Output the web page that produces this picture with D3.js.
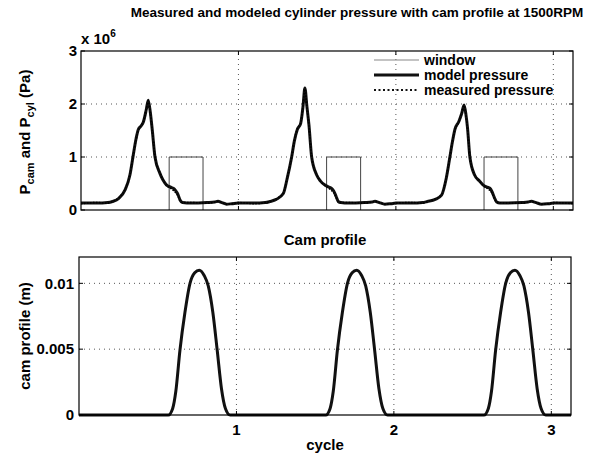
<html>
<head>
<script src="https://d3js.org/d3.v7.min.js"></script>
<style>
  body { margin: 0; background: white; }
  svg { font-family: "Liberation Sans", Arial, sans-serif; font-weight: bold; }
  .grid { stroke: #555; stroke-width: 1; stroke-dasharray: 1,4; fill: none; }
  .frame { stroke: black; stroke-width: 1.2; fill: none; }
  .tick { font-size: 15px; fill: black; }
</style>
</head>
<body>
<svg id="chart" width="590" height="457"></svg>
<script>
// ---- data ----
const cycleTicks = [1, 2, 3];
const pressureTicks = [0, 1, 2, 3];          // x 10^6 Pa
const camTicks = [0, 0.005, 0.01];
const camTickLabels = ["0", "0.005", "0.01"];

// model cylinder pressure [cycle, Pa x 1e6]
const modelPressure = [
  [0, 0.13], [0.1, 0.13], [0.17, 0.14], [0.2, 0.16], [0.24, 0.22], [0.28, 0.38], [0.31, 0.65],
  [0.33, 1.0], [0.35, 1.35], [0.364, 1.52], [0.38, 1.58], [0.396, 1.66], [0.415, 1.9], [0.427, 2.07],
  [0.44, 1.85], [0.453, 1.5], [0.47, 1.0], [0.5, 0.7], [0.52, 0.57], [0.544, 0.47], [0.57, 0.43],
  [0.586, 0.41], [0.6, 0.37], [0.615, 0.3], [0.629, 0.19], [0.645, 0.14], [0.7, 0.13], [0.8, 0.14],
  [0.85, 0.15], [0.87, 0.165], [0.895, 0.14], [0.925, 0.11], [0.96, 0.12], [1.0, 0.13], [1.1, 0.13],
  [1.17, 0.14], [1.2, 0.16], [1.24, 0.2], [1.285, 0.31], [1.31, 0.6], [1.338, 1.0], [1.355, 1.3],
  [1.374, 1.52], [1.395, 1.63], [1.41, 1.95], [1.422, 2.3], [1.435, 1.95], [1.448, 1.6], [1.465, 1.0],
  [1.497, 0.66], [1.52, 0.55], [1.55, 0.47], [1.575, 0.43], [1.59, 0.41], [1.605, 0.36], [1.62, 0.26],
  [1.634, 0.16], [1.65, 0.14], [1.7, 0.13], [1.8, 0.14], [1.85, 0.15], [1.867, 0.165], [1.895, 0.14],
  [1.93, 0.11], [1.97, 0.12], [2.0, 0.13], [2.1, 0.13], [2.17, 0.14], [2.2, 0.16], [2.25, 0.2],
  [2.29, 0.28], [2.32, 0.6], [2.343, 1.0], [2.36, 1.3], [2.375, 1.52], [2.4, 1.67], [2.418, 1.82],
  [2.433, 1.98], [2.445, 1.8], [2.455, 1.55], [2.47, 1.0], [2.5, 0.66], [2.53, 0.55], [2.555, 0.47],
  [2.58, 0.43], [2.597, 0.41], [2.61, 0.35], [2.625, 0.24], [2.64, 0.15], [2.66, 0.13], [2.7, 0.13],
  [2.8, 0.14], [2.84, 0.15], [2.86, 0.165], [2.89, 0.14], [2.925, 0.11], [2.97, 0.12], [3.0, 0.13],
  [3.125, 0.13]
];

// measured cylinder pressure [cycle, Pa x 1e6]
const measuredPressure = [
  [0, 0.12], [0.1, 0.14], [0.17, 0.13], [0.2, 0.16], [0.24, 0.23], [0.28, 0.39], [0.31, 0.66],
  [0.33, 1.0], [0.35, 1.33], [0.364, 1.5], [0.38, 1.59], [0.396, 1.67], [0.415, 1.91], [0.427, 2.06],
  [0.44, 1.84], [0.453, 1.49], [0.47, 1.01], [0.5, 0.71], [0.52, 0.58], [0.544, 0.46], [0.57, 0.41],
  [0.586, 0.37], [0.6, 0.33], [0.615, 0.27], [0.629, 0.18], [0.645, 0.14], [0.7, 0.14], [0.8, 0.13],
  [0.85, 0.15], [0.87, 0.16], [0.895, 0.14], [0.925, 0.11], [0.96, 0.12], [1.0, 0.14], [1.1, 0.12],
  [1.17, 0.14], [1.2, 0.16], [1.24, 0.21], [1.285, 0.32], [1.31, 0.61], [1.338, 1.0], [1.355, 1.31],
  [1.374, 1.53], [1.395, 1.64], [1.41, 1.96], [1.422, 2.28], [1.435, 1.94], [1.448, 1.59], [1.465, 1.01],
  [1.497, 0.67], [1.52, 0.55], [1.55, 0.46], [1.575, 0.41], [1.59, 0.37], [1.605, 0.33], [1.62, 0.24],
  [1.634, 0.16], [1.65, 0.14], [1.7, 0.14], [1.8, 0.13], [1.85, 0.15], [1.867, 0.16], [1.895, 0.14],
  [1.93, 0.11], [1.97, 0.12], [2.0, 0.13], [2.1, 0.14], [2.17, 0.13], [2.2, 0.16], [2.25, 0.21],
  [2.29, 0.29], [2.32, 0.61], [2.343, 1.0], [2.36, 1.31], [2.375, 1.51], [2.4, 1.66], [2.418, 1.83],
  [2.433, 1.97], [2.445, 1.79], [2.455, 1.54], [2.47, 1.01], [2.5, 0.67], [2.53, 0.55], [2.555, 0.46],
  [2.58, 0.41], [2.597, 0.37], [2.61, 0.32], [2.625, 0.22], [2.64, 0.15], [2.66, 0.14], [2.7, 0.13],
  [2.8, 0.13], [2.84, 0.15], [2.86, 0.16], [2.89, 0.14], [2.925, 0.11], [2.97, 0.12], [3.0, 0.14],
  [3.125, 0.12]
];

// window: open / close positions (cycle), height Pa x 1e6
const windowStart = [0.56, 1.56, 2.56];
const windowEnd = [0.775, 1.776, 2.775];
const windowHeight = 1.0;

// cam profile [cycle, m]
const camProfile = [
  [0, 0], [0.3, 0], [0.567, 0], [0.595, 0.0005], [0.615, 0.0018], [0.641, 0.0049], [0.673, 0.0078],
  [0.705, 0.0100], [0.735, 0.0108], [0.764, 0.0110], [0.795, 0.0106], [0.821, 0.0098], [0.85, 0.0078],
  [0.878, 0.0049], [0.905, 0.0020], [0.93, 0.0005], [0.96, 0], [1.3, 0],
  [1.567, 0], [1.595, 0.0005], [1.615, 0.0018], [1.641, 0.0049], [1.673, 0.0078],
  [1.705, 0.0100], [1.735, 0.0108], [1.764, 0.0110], [1.795, 0.0106], [1.821, 0.0098], [1.85, 0.0078],
  [1.878, 0.0049], [1.905, 0.0020], [1.93, 0.0005], [1.96, 0], [2.3, 0],
  [2.572, 0], [2.6, 0.0005], [2.62, 0.0018], [2.646, 0.0049], [2.678, 0.0078],
  [2.71, 0.0100], [2.74, 0.0108], [2.769, 0.0110], [2.8, 0.0106], [2.826, 0.0098], [2.855, 0.0078],
  [2.883, 0.0049], [2.91, 0.0020], [2.935, 0.0005], [2.965, 0], [3.125, 0]
];

const legendItems = ["window", "model pressure", "measured pressure"];

// ---- layout ----
const svg = d3.select("#chart");
const topBox = { left: 81, right: 573, top: 51, bottom: 210 };
const botBox = { left: 79, right: 571, top: 257, bottom: 415 };

const xTop = d3.scaleLinear().domain([0, 3.125]).range([topBox.left, topBox.right]);
const yTop = d3.scaleLinear().domain([0, 3]).range([topBox.bottom, topBox.top]);
const xBot = d3.scaleLinear().domain([0, 3.125]).range([botBox.left, botBox.right]);
const yBot = d3.scaleLinear().domain([0, 0.012]).range([botBox.bottom, botBox.top]);

function grid(g, b, x, y, xt, yt) {
  // dotted grid
  g.selectAll(".gx").data(xt.filter(d => x(d) < b.right - 1)).join("line")
    .attr("class", "grid")
    .attr("x1", d => x(d)).attr("x2", d => x(d))
    .attr("y1", b.bottom).attr("y2", b.top);
  g.selectAll(".gy").data(yt.filter(d => y(d) > b.top + 1 && y(d) < b.bottom - 1)).join("line")
    .attr("class", "grid")
    .attr("x1", b.left).attr("x2", b.right)
    .attr("y1", d => y(d)).attr("y2", d => y(d));
}

function box(g, b, x, y, xt, yt) {
  // inward ticks on all sides
  xt.forEach(d => {
    g.append("line").attr("x1", x(d)).attr("x2", x(d)).attr("y1", b.bottom).attr("y2", b.bottom - 4).attr("stroke", "black");
    g.append("line").attr("x1", x(d)).attr("x2", x(d)).attr("y1", b.top).attr("y2", b.top + 4).attr("stroke", "black");
  });
  yt.forEach(d => {
    g.append("line").attr("x1", b.left).attr("x2", b.left + 4).attr("y1", y(d)).attr("y2", y(d)).attr("stroke", "black");
    g.append("line").attr("x1", b.right).attr("x2", b.right - 4).attr("y1", y(d)).attr("y2", y(d)).attr("stroke", "black");
  });
  g.append("rect").attr("class", "frame")
    .attr("x", b.left).attr("y", b.top)
    .attr("width", b.right - b.left).attr("height", b.bottom - b.top);
}

// ---- top panel: pressure ----
const gTop = svg.append("g");
grid(gTop, topBox, xTop, yTop, cycleTicks, pressureTicks);

const windowPath = windowStart.map((s, i) =>
  [[s, 0], [s, windowHeight], [windowEnd[i], windowHeight], [windowEnd[i], 0]]);
const straight = d3.line().x(d => xTop(d[0])).y(d => yTop(d[1]));
gTop.selectAll(".win").data(windowPath).join("path")
  .attr("d", straight).attr("fill", "none").attr("stroke", "#444").attr("stroke-width", 1);

const pLine = d3.line().curve(d3.curveMonotoneX).x(d => xTop(d[0])).y(d => yTop(d[1]));
gTop.append("path").datum(modelPressure).attr("d", pLine)
  .attr("fill", "none").attr("stroke", "#111").attr("stroke-width", 3).attr("stroke-linejoin", "round");
gTop.append("path").datum(measuredPressure).attr("d", pLine)
  .attr("fill", "none").attr("stroke", "#000").attr("stroke-width", 1.6).attr("stroke-dasharray", "1.5,1.5");

box(gTop, topBox, xTop, yTop, cycleTicks, pressureTicks);

gTop.selectAll(".ylab").data(pressureTicks).join("text")
  .attr("class", "tick")
  .attr("x", topBox.left - 4).attr("y", d => yTop(d)).attr("dy", "0.35em")
  .attr("text-anchor", "end").text(d => d);

const expo = svg.append("text").attr("x", 81).attr("y", 44).attr("font-size", 15);
expo.append("tspan").text("x 10");
expo.append("tspan").attr("font-size", 10).attr("dy", -7).text("6");

// legend
const lg = svg.append("g");
const rowY = [60, 75, 90];
lg.append("line").attr("x1", 374).attr("x2", 419).attr("y1", rowY[0]).attr("y2", rowY[0])
  .attr("stroke", "#888").attr("stroke-width", 1.2);
lg.append("line").attr("x1", 374).attr("x2", 419).attr("y1", rowY[1]).attr("y2", rowY[1])
  .attr("stroke", "#111").attr("stroke-width", 3);
lg.append("line").attr("x1", 374).attr("x2", 419).attr("y1", rowY[2]).attr("y2", rowY[2])
  .attr("stroke", "#111").attr("stroke-width", 2).attr("stroke-dasharray", "2,2.5");
lg.selectAll("text").data(legendItems).join("text")
  .attr("x", 424).attr("y", (d, i) => rowY[i] + 5)
  .attr("font-size", 14).text(d => d);

// y label top
const yl = svg.append("text")
  .attr("transform", "translate(30,132) rotate(-90)")
  .attr("text-anchor", "middle").attr("font-size", 15);
yl.append("tspan").text("P");
yl.append("tspan").attr("font-size", 11).attr("dy", 4).text("cam");
yl.append("tspan").attr("dy", -4).text(" and P");
yl.append("tspan").attr("font-size", 11).attr("dy", 4).text("cyl");
yl.append("tspan").attr("dy", -4).text(" (Pa)");

// main title
svg.append("text").attr("x", 357).attr("y", 17).attr("text-anchor", "middle")
  .attr("font-size", 13.5).text("Measured and modeled cylinder pressure with cam profile at 1500RPM");

// ---- bottom panel: cam profile ----
const gBot = svg.append("g");
grid(gBot, botBox, xBot, yBot, cycleTicks, camTicks);

const cLine = d3.line().curve(d3.curveMonotoneX).x(d => xBot(d[0])).y(d => yBot(d[1]));
gBot.append("path").datum(camProfile).attr("d", cLine)
  .attr("fill", "none").attr("stroke", "#111").attr("stroke-width", 3).attr("stroke-linejoin", "round");

box(gBot, botBox, xBot, yBot, cycleTicks, camTicks);

gBot.selectAll(".ylab").data(camTicks).join("text")
  .attr("class", "tick")
  .attr("x", botBox.left - 5).attr("y", d => yBot(d)).attr("dy", "0.35em")
  .attr("text-anchor", "end").text((d, i) => camTickLabels[i]);
gBot.selectAll(".xlab").data(cycleTicks).join("text")
  .attr("class", "tick")
  .attr("x", d => xBot(d)).attr("y", 435)
  .attr("text-anchor", "middle").text(d => d);

svg.append("text").attr("x", 325).attr("y", 245).attr("text-anchor", "middle")
  .attr("font-size", 15).text("Cam profile");
svg.append("text").attr("x", 325).attr("y", 450).attr("text-anchor", "middle")
  .attr("font-size", 15).text("cycle");
svg.append("text").attr("transform", "translate(30,336) rotate(-90)")
  .attr("text-anchor", "middle").attr("font-size", 15).text("cam profile (m)");
</script>
</body>
</html>
